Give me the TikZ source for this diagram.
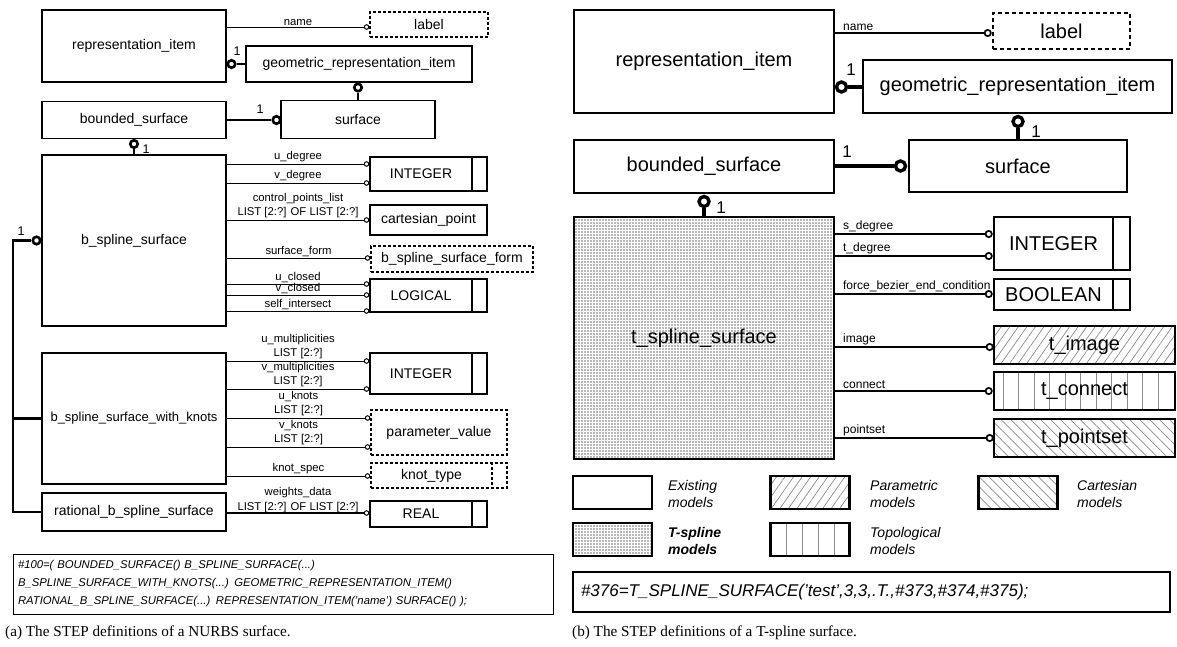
\documentclass[tikz,border=0pt]{standalone}
\usepackage{fontspec}
\setmainfont{Liberation Sans}
\newfontfamily\capfont{Liberation Serif}
\usetikzlibrary{arrows.meta,patterns.meta}

\tikzset{
  fL/.style={font=\fontsize{14}{16}\selectfont},
  fLs/.style={font=\fontsize{11.3}{14.5}\selectfont},
  fR/.style={font=\fontsize{20}{24}\selectfont},
  fRs/.style={font=\fontsize{12}{14}\selectfont},
  boxL/.style={draw, line width=1.4pt, fL, inner sep=0pt},
  dboxL/.style={boxL, dash pattern=on 3pt off 2pt},
  boxR/.style={draw, line width=2.6pt, fR, inner sep=0pt},
  dboxR/.style={boxR, dash pattern=on 4pt off 3pt},
  attL/.style={line width=1pt, -{Circle[open,length=5.5pt,width=5.5pt,line width=1pt]}},
  attR/.style={line width=1.7pt, -{Circle[open,length=8pt,width=8pt,line width=1.7pt]}},
  relL/.style={line width=2.6pt},
  relR/.style={line width=3.6pt},
  supL/.style={circle, draw, fill=white, line width=2.6pt, minimum size=7.5pt, inner sep=0pt},
  supR/.style={circle, draw, fill=white, line width=3.4pt, minimum size=10pt, inner sep=0pt},
  cardL/.style={font=\fontsize{12.5}{14}\selectfont, inner sep=0pt},
  cardR/.style={font=\fontsize{17}{20}\selectfont, inner sep=0pt},
  labL/.style={fLs, align=center, inner sep=1.2pt},
  labR/.style={fRs, inner sep=1.5pt, anchor=south west, pos=0, xshift=5.5pt},
  legtxt/.style={font=\fontsize{14}{17}\selectfont\itshape, align=left, anchor=west, inner sep=0pt},
  legbox/.style={draw, line width=2.6pt, minimum width=79pt, minimum height=33pt, inner sep=0pt},
  hatchA/.style={pattern={Lines[angle=55,distance=7pt,line width=0.7pt]}, pattern color=black!45},
  hatchB/.style={pattern={Lines[angle=-45,distance=7pt,line width=0.7pt]}, pattern color=black!45},
  dotfill/.style={pattern={Dots[radius=0.85pt,distance=3pt]}, pattern color=black!55},
  vline/.style={line width=0.8pt, black!45},
  caption/.style={font=\capfont\fontsize{15.2}{18}\selectfont, anchor=west, inner sep=0pt},
}

\begin{document}
\begin{tikzpicture}[x=1pt,y=-1pt,line join=miter]
\useasboundingbox (0,0) rectangle (1177,646);
\fill[white] (0,0) rectangle (1177,646);

% ---------------- (a) NURBS surface ----------------
\node[boxL, minimum width=184pt, minimum height=72pt] (ri) at (134,46) {representation\_item};
\node[dboxL, minimum width=118pt, minimum height=25pt] (lbl) at (429,24.5) {label};
\node[boxL, minimum width=226pt, minimum height=36pt] (gri) at (359,64) {geometric\_representation\_item};
\node[boxL, minimum width=184pt, minimum height=37pt] (bs) at (134,120) {bounded\_surface};
\node[boxL, minimum width=154pt, minimum height=38pt] (sf) at (358,119.5) {surface};
\node[boxL, minimum width=184pt, minimum height=171pt] (bss) at (134,240.5) {b\_spline\_surface};
\node[boxL, minimum width=184pt, minimum height=131pt, font=\fontsize{13}{16}\selectfont] (bssk) at (134,418.5) {b\_spline\_surface\_with\_knots};
\node[boxL, minimum width=184pt, minimum height=38pt] (rbss) at (134,512) {rational\_b\_spline\_surface};

\node[boxL, minimum width=117pt, minimum height=34pt] (int1) at (428.5,174) {INTEGER\hspace*{15pt}};
\node[boxL, minimum width=117pt, minimum height=30pt] (cp) at (428.5,220) {cartesian\_point};
\node[dboxL, minimum width=162pt, minimum height=26pt] (bsf) at (452,259) {b\_spline\_surface\_form};
\node[boxL, minimum width=117pt, minimum height=33pt] (log) at (428.5,295.5) {LOGICAL\hspace*{15pt}};
\node[boxL, minimum width=117pt, minimum height=41pt] (int2) at (428.5,373.5) {INTEGER\hspace*{15pt}};
\node[dboxL, minimum width=136pt, minimum height=45pt] (pv) at (439,432.5) {parameter\_value};
\node[dboxL, minimum width=136pt, minimum height=25pt] (kt) at (439,475.5) {knot\_type\hspace*{15pt}};
\node[boxL, minimum width=117pt, minimum height=26pt] (real) at (428.5,514) {REAL\hspace*{15pt}};

% type-box dividers
\foreach \b in {int1,log,int2,real}
  \draw[line width=1.4pt] (\b.north -| 472,0) -- (\b.south -| 472,0);
\draw[line width=1.4pt, dash pattern=on 3pt off 2pt] (kt.north -| 492,0) -- (kt.south -| 492,0);

% supertype / subtype relations
\node[supL] (c1) at (231.5,64) {};
\draw[relL] (c1) -- (gri.west |- c1);
\node[cardL] (n1) at (237,51) {1};
\node[supL] (c2) at (358,87.5) {};
\draw[relL] (c2) -- (c2 |- sf.north);
\node[supL] (c3) at (276.5,120) {};
\draw[relL] (bs.east |- c3) -- (c3);
\node[cardL] (n3) at (260,109) {1};
\node[supL] (c4) at (134,144) {};
\draw[relL] (c4) -- (c4 |- bss.north);
\node[cardL] (n4) at (146,149) {1};
\node[supL] (c5) at (36.5,240.5) {};
\node[cardL] (n5) at (21,231) {1};
\coordinate (bus) at (13,0);
\draw[relL] (c5.west) -- (c5 -| bus) -- (rbss.west -| bus) -- (rbss.west);
\draw[relL] (bssk.west -| bus) -- (bssk.west);

% attributes
\draw[attL] (ri.east |- 0,27) -- node[labL, above]{name} (lbl.west |- 0,27);
\draw[attL] (bss.east |- 0,164) -- node[labL, above]{u\_degree} (int1.west |- 0,164);
\draw[attL] (bss.east |- 0,183) -- node[labL, above]{v\_degree} (int1.west |- 0,183);
\draw[attL] (bss.east |- 0,220) -- node[labL, above]{control\_points\_list\\LIST [2:?] OF LIST [2:?]} (cp.west |- 0,220);
\draw[attL] (bss.east |- 0,258) -- node[labL, above]{surface\_form} (bsf.west |- 0,258);
\draw[attL] (bss.east |- 0,284) -- node[labL, above]{u\_closed} (log.west |- 0,284);
\draw[attL] (bss.east |- 0,295) -- node[labL, above, inner sep=0.3pt]{v\_closed} (log.west |- 0,295);
\draw[attL] (bss.east |- 0,311) -- node[labL, above]{self\_intersect} (log.west |- 0,311);
\draw[attL] (bssk.east |- 0,361) -- node[labL, above]{u\_multiplicities\\LIST [2:?]} (int2.west |- 0,361);
\draw[attL] (bssk.east |- 0,389) -- node[labL, above]{v\_multiplicities\\LIST [2:?]} (int2.west |- 0,389);
\draw[attL] (bssk.east |- 0,418) -- node[labL, above]{u\_knots\\LIST [2:?]} (pv.west |- 0,418);
\draw[attL] (bssk.east |- 0,447) -- node[labL, above]{v\_knots\\LIST [2:?]} (pv.west |- 0,447);
\draw[attL] (bssk.east |- 0,476) -- node[labL, above]{knot\_spec} (kt.west |- 0,476);
\draw[attL, line width=1.6pt] (rbss.east |- 0,513) -- node[labL, above, yshift=-1.5pt]{weights\_data\\LIST [2:?] OF LIST [2:?]} (real.west |- 0,513);

% instance text
\node[draw, line width=1pt, minimum width=540pt, minimum height=60pt, text width=530pt, inner xsep=5pt,
      align=left, font=\fontsize{11.3}{18}\selectfont\itshape] (stepa) at (283,584)
  {\#100=( BOUNDED\_SURFACE() B\_SPLINE\_SURFACE(...)\\
   B\_SPLINE\_SURFACE\_WITH\_KNOTS(...) GEOMETRIC\_REPRESENTATION\_ITEM()\\
   RATIONAL\_B\_SPLINE\_SURFACE(...) REPRESENTATION\_ITEM('name') SURFACE() );};
\node[caption] (capa) at (5,633) {(a) The STEP definitions of a NURBS surface.};

% ---------------- (b) T-spline surface ----------------
\node[boxR, minimum width=260pt, minimum height=103pt] (ri2) at (704,61.5) {representation\_item};
\node[dboxR, minimum width=137pt, minimum height=36pt] (lbl2) at (1061.5,31) {label};
\node[boxR, minimum width=309pt, minimum height=53pt] (gri2) at (1017.5,86.5) {geometric\_representation\_item};
\node[boxR, minimum width=260pt, minimum height=53pt] (bs2) at (704,166.5) {bounded\_surface};
\node[boxR, minimum width=218pt, minimum height=52pt] (sf2) at (1018,166) {surface};
\node[boxR, dotfill, minimum width=260pt, minimum height=242pt] (tss) at (704,338) {t\_spline\_surface};

\node[boxR, minimum width=136pt, minimum height=53pt] (int3) at (1062,243.5) {INTEGER\hspace*{17pt}};
\node[boxR, minimum width=136pt, minimum height=31pt] (bool) at (1062,294.5) {BOOLEAN\hspace*{17pt}};
\foreach \b in {int3,bool}
  \draw[line width=2.6pt] (\b.north -| 1113,0) -- (\b.south -| 1113,0);
\node[boxR, hatchA, minimum width=181pt, minimum height=38pt] (tim) at (1084.5,345) {t\_image};
\foreach \k in {0,...,10}
  \draw[vline] (1003+15.5*\k,373) -- (1003+15.5*\k,409);
\node[boxR, minimum width=181pt, minimum height=38pt] (tcon) at (1084.5,391) {t\_connect};
\node[boxR, hatchB, minimum width=181pt, minimum height=38pt] (tps) at (1084.5,438) {t\_pointset};

% supertype / subtype relations
\node[supR] (d1) at (841.5,87) {};
\draw[relR] (d1) -- (gri2.west |- d1);
\node[cardR] (m1) at (851,70) {1};
\node[supR] (d2) at (1018,121.5) {};
\draw[relR] (d2) -- (d2 |- sf2.north);
\node[cardR] (m2) at (1036,132) {1};
\node[supR] (d3) at (900.5,166) {};
\draw[relR] (bs2.east |- d3) -- (d3);
\node[cardR] (m3) at (847,152) {1};
\node[supR] (d4) at (704,201.5) {};
\draw[relR] (d4) -- (d4 |- tss.north);
\node[cardR] (m4) at (721,208) {1};

% attributes
\draw[attR] (ri2.east |- 0,33) -- node[labR]{name} (lbl2.west |- 0,33);
\draw[attR] (tss.east |- 0,234) -- node[labR]{s\_degree} (int3.west |- 0,234);
\draw[attR] (tss.east |- 0,256) -- node[labR]{t\_degree} (int3.west |- 0,256);
\draw[attR] (tss.east |- 0,294) -- node[labR]{force\_bezier\_end\_condition} (bool.west |- 0,294);
\draw[attR] (tss.east |- 0,347) -- node[labR]{image} (tim.west |- 0,347);
\draw[attR] (tss.east |- 0,391) -- node[labR]{connect} (tcon.west |- 0,391);
\draw[attR] (tss.east |- 0,438) -- node[labR]{pointset} (tps.west |- 0,438);

% legend
\node[legbox] (lg1) at (612.5,492.5) {};
\node[legtxt] (lt1) at (668,493.5) {Existing\\models};
\node[legbox, hatchA] (lg2) at (810,492.5) {};
\node[legtxt] (lt2) at (870,493.5) {Parametric\\models};
\node[legbox, hatchB] (lg3) at (1018,492.5) {};
\node[legtxt] (lt3) at (1077,493.5) {Cartesian\\models};
\node[legbox, dotfill] (lg4) at (612.5,539.5) {};
\node[legtxt, font=\fontsize{14}{17}\selectfont\bfseries\itshape] (lt4) at (668,540.5) {T-spline\\models};
\foreach \x in {786,802,818,834}
  \draw[vline] (\x,524) -- (\x,555);
\node[legbox] (lg5) at (810,539.5) {};
\node[legtxt] (lt5) at (870,540.5) {Topological\\models};

% instance text
\node[draw, line width=2pt, minimum width=597pt, minimum height=40pt, text width=581pt, inner xsep=8pt,
      align=left, font=\fontsize{17}{20}\selectfont\itshape] (stepb) at (871.5,592)
  {\#376=T\_SPLINE\_SURFACE('test',3,3,.T.,\#373,\#374,\#375);};
\node[caption] (capb) at (572,633) {(b) The STEP definitions of a T-spline surface.};
\end{tikzpicture}
\end{document}
